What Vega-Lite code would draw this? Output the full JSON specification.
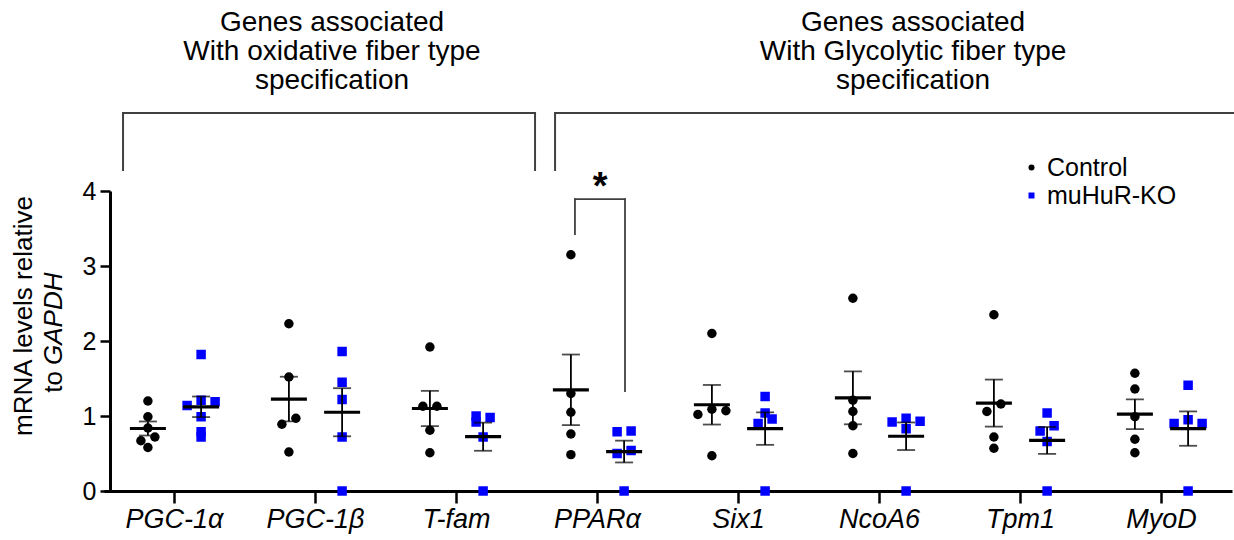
{
  "$schema": "https://vega.github.io/schema/vega-lite/v6.json",
  "width": 1128,
  "height": 300,
  "autosize": {"type": "none"},
  "padding": {"left": 104, "top": 191, "right": 2, "bottom": 49},
  "background": "white",
  "config": {
    "view": {"stroke": null},
    "font": "Liberation Sans",
    "axisX": {"labelFontSize": 27, "labelFontStyle": "italic", "labelAngle": 0, "labelColor": "black", "labelFont": "Liberation Sans", "tickSize": 12, "tickWidth": 2.5, "tickColor": "black", "domainWidth": 3, "domainColor": "black", "labelPadding": 3, "title": null},
    "axisY": {"labelFontSize": 25, "labelColor": "black", "labelFont": "Liberation Sans", "tickSize": 10, "tickWidth": 2.5, "tickColor": "black", "domainWidth": 3, "domainColor": "black", "labelPadding": 4, "grid": false, "title": null, "offset": -6},
    "legend": {"orient": "none", "legendX": 915, "legendY": -36, "title": null, "labelFontSize": 25, "labelFont": "Liberation Sans", "labelColor": "black", "symbolSize": 36, "labelOffset": 3, "rowPadding": 2, "symbolStrokeWidth": 0}
  },
  "datasets": {
    "expr": [
      {"gene": "PGC-1α", "group": "Control", "value": 1.20, "slot": 0},
      {"gene": "PGC-1α", "group": "Control", "value": 0.99, "slot": 0},
      {"gene": "PGC-1α", "group": "Control", "value": 0.84, "slot": 0},
      {"gene": "PGC-1α", "group": "Control", "value": 0.72, "slot": 1},
      {"gene": "PGC-1α", "group": "Control", "value": 0.67, "slot": -1},
      {"gene": "PGC-1α", "group": "Control", "value": 0.58, "slot": 0},
      {"gene": "PGC-1α", "group": "muHuR-KO", "value": 1.82, "slot": 0},
      {"gene": "PGC-1α", "group": "muHuR-KO", "value": 1.21, "slot": 0},
      {"gene": "PGC-1α", "group": "muHuR-KO", "value": 1.19, "slot": 2},
      {"gene": "PGC-1α", "group": "muHuR-KO", "value": 1.14, "slot": -2},
      {"gene": "PGC-1α", "group": "muHuR-KO", "value": 0.99, "slot": 0},
      {"gene": "PGC-1α", "group": "muHuR-KO", "value": 0.79, "slot": 0},
      {"gene": "PGC-1α", "group": "muHuR-KO", "value": 0.72, "slot": 0},
      {"gene": "PGC-1β", "group": "Control", "value": 2.23, "slot": 0},
      {"gene": "PGC-1β", "group": "Control", "value": 1.52, "slot": 0},
      {"gene": "PGC-1β", "group": "Control", "value": 0.97, "slot": 1},
      {"gene": "PGC-1β", "group": "Control", "value": 0.89, "slot": -1},
      {"gene": "PGC-1β", "group": "Control", "value": 0.52, "slot": 0},
      {"gene": "PGC-1β", "group": "muHuR-KO", "value": 1.86, "slot": 0},
      {"gene": "PGC-1β", "group": "muHuR-KO", "value": 1.45, "slot": 0},
      {"gene": "PGC-1β", "group": "muHuR-KO", "value": 1.22, "slot": 0},
      {"gene": "PGC-1β", "group": "muHuR-KO", "value": 0.72, "slot": 0},
      {"gene": "PGC-1β", "group": "muHuR-KO", "value": 0.00, "slot": 0},
      {"gene": "T-fam", "group": "Control", "value": 1.92, "slot": 0},
      {"gene": "T-fam", "group": "Control", "value": 1.13, "slot": -1},
      {"gene": "T-fam", "group": "Control", "value": 1.13, "slot": 1},
      {"gene": "T-fam", "group": "Control", "value": 0.81, "slot": 0},
      {"gene": "T-fam", "group": "Control", "value": 0.51, "slot": 0},
      {"gene": "T-fam", "group": "muHuR-KO", "value": 1.00, "slot": -1},
      {"gene": "T-fam", "group": "muHuR-KO", "value": 0.92, "slot": -1},
      {"gene": "T-fam", "group": "muHuR-KO", "value": 0.98, "slot": 1},
      {"gene": "T-fam", "group": "muHuR-KO", "value": 0.72, "slot": 0},
      {"gene": "T-fam", "group": "muHuR-KO", "value": 0.00, "slot": 0},
      {"gene": "PPARα", "group": "Control", "value": 3.15, "slot": 0},
      {"gene": "PPARα", "group": "Control", "value": 1.30, "slot": 0},
      {"gene": "PPARα", "group": "Control", "value": 1.05, "slot": 0},
      {"gene": "PPARα", "group": "Control", "value": 0.76, "slot": 0},
      {"gene": "PPARα", "group": "Control", "value": 0.485, "slot": 0},
      {"gene": "PPARα", "group": "muHuR-KO", "value": 0.79, "slot": -1},
      {"gene": "PPARα", "group": "muHuR-KO", "value": 0.80, "slot": 1},
      {"gene": "PPARα", "group": "muHuR-KO", "value": 0.50, "slot": -1},
      {"gene": "PPARα", "group": "muHuR-KO", "value": 0.54, "slot": 1},
      {"gene": "PPARα", "group": "muHuR-KO", "value": 0.00, "slot": 0},
      {"gene": "Six1", "group": "Control", "value": 2.10, "slot": 0},
      {"gene": "Six1", "group": "Control", "value": 1.09, "slot": 0},
      {"gene": "Six1", "group": "Control", "value": 1.02, "slot": -2},
      {"gene": "Six1", "group": "Control", "value": 1.07, "slot": 2},
      {"gene": "Six1", "group": "Control", "value": 0.47, "slot": 0},
      {"gene": "Six1", "group": "muHuR-KO", "value": 1.26, "slot": 0},
      {"gene": "Six1", "group": "muHuR-KO", "value": 1.04, "slot": 0},
      {"gene": "Six1", "group": "muHuR-KO", "value": 0.96, "slot": 1},
      {"gene": "Six1", "group": "muHuR-KO", "value": 0.90, "slot": -1},
      {"gene": "Six1", "group": "muHuR-KO", "value": 0.00, "slot": 0},
      {"gene": "NcoA6", "group": "Control", "value": 2.57, "slot": 0},
      {"gene": "NcoA6", "group": "Control", "value": 1.21, "slot": 0},
      {"gene": "NcoA6", "group": "Control", "value": 1.06, "slot": 0},
      {"gene": "NcoA6", "group": "Control", "value": 0.87, "slot": 0},
      {"gene": "NcoA6", "group": "Control", "value": 0.50, "slot": 0},
      {"gene": "NcoA6", "group": "muHuR-KO", "value": 0.92, "slot": -2},
      {"gene": "NcoA6", "group": "muHuR-KO", "value": 0.97, "slot": 0},
      {"gene": "NcoA6", "group": "muHuR-KO", "value": 0.93, "slot": 2},
      {"gene": "NcoA6", "group": "muHuR-KO", "value": 0.83, "slot": 0},
      {"gene": "NcoA6", "group": "muHuR-KO", "value": 0.00, "slot": 0},
      {"gene": "Tpm1", "group": "Control", "value": 2.35, "slot": 0},
      {"gene": "Tpm1", "group": "Control", "value": 1.16, "slot": 1},
      {"gene": "Tpm1", "group": "Control", "value": 1.06, "slot": -1},
      {"gene": "Tpm1", "group": "Control", "value": 0.72, "slot": 0},
      {"gene": "Tpm1", "group": "Control", "value": 0.57, "slot": 0},
      {"gene": "Tpm1", "group": "muHuR-KO", "value": 1.04, "slot": 0},
      {"gene": "Tpm1", "group": "muHuR-KO", "value": 0.87, "slot": 1},
      {"gene": "Tpm1", "group": "muHuR-KO", "value": 0.80, "slot": -1},
      {"gene": "Tpm1", "group": "muHuR-KO", "value": 0.66, "slot": 0},
      {"gene": "Tpm1", "group": "muHuR-KO", "value": 0.00, "slot": 0},
      {"gene": "MyoD", "group": "Control", "value": 1.57, "slot": 0},
      {"gene": "MyoD", "group": "Control", "value": 1.36, "slot": 0},
      {"gene": "MyoD", "group": "Control", "value": 0.99, "slot": 0},
      {"gene": "MyoD", "group": "Control", "value": 0.69, "slot": 0},
      {"gene": "MyoD", "group": "Control", "value": 0.51, "slot": 0},
      {"gene": "MyoD", "group": "muHuR-KO", "value": 1.41, "slot": 0},
      {"gene": "MyoD", "group": "muHuR-KO", "value": 0.95, "slot": 0},
      {"gene": "MyoD", "group": "muHuR-KO", "value": 0.90, "slot": -2},
      {"gene": "MyoD", "group": "muHuR-KO", "value": 0.90, "slot": 2},
      {"gene": "MyoD", "group": "muHuR-KO", "value": 0.00, "slot": 0}
    ]
  },
  "layer": [
    {
      "data": {"name": "expr"},
      "transform": [{"filter": "datum.group == 'Control'"}],
      "encoding": {
        "x": {"field": "gene", "type": "nominal", "sort": null, "scale": {"type": "band", "domain": ["PGC-1α", "PGC-1β", "T-fam", "PPARα", "Six1", "NcoA6", "Tpm1", "MyoD"], "paddingInner": 0, "paddingOuter": 0}, "title": null}
      },
      "layer": [
        {
          "mark": {"type": "point", "filled": true, "size": 90, "opacity": 1, "strokeWidth": 0},
          "encoding": {
            "xOffset": {"field": "slot", "type": "quantitative", "scale": {"domain": [-6.271, 13.871], "nice": false, "zero": false}},
            "y": {"field": "value", "type": "quantitative", "scale": {"domain": [0, 4], "nice": false}, "axis": {"values": [0, 1, 2, 3, 4], "title": null}},
            "color": {"field": "group", "type": "nominal", "scale": {"domain": ["Control", "muHuR-KO"], "range": ["#000000", "#0000ff"]}},
            "shape": {"field": "group", "type": "nominal", "scale": {"domain": ["Control", "muHuR-KO"], "range": ["circle", "square"]}}
          }
        },
        {
          "mark": {"type": "errorbar", "extent": "stderr", "color": "black", "ticks": {"size": 18, "thickness": 1.8, "color": "black"}, "rule": {"strokeWidth": 1.8, "color": "black"}},
          "encoding": {
            "xOffset": {"datum": 0, "type": "quantitative", "scale": {"domain": [-6.271, 13.871], "nice": false, "zero": false}},
            "y": {"field": "value", "type": "quantitative", "scale": {"domain": [0, 4], "nice": false}, "axis": {"values": [0, 1, 2, 3, 4], "title": null}}
          }
        },
        {
          "mark": {"type": "tick", "size": 36, "thickness": 3.2, "color": "black", "opacity": 1},
          "encoding": {
            "xOffset": {"datum": 0, "type": "quantitative", "scale": {"domain": [-6.271, 13.871], "nice": false, "zero": false}},
            "y": {"aggregate": "mean", "field": "value", "type": "quantitative", "scale": {"domain": [0, 4], "nice": false}, "axis": {"values": [0, 1, 2, 3, 4], "title": null}}
          }
        }
      ]
    },
    {
      "data": {"name": "expr"},
      "transform": [{"filter": "datum.group == 'muHuR-KO'"}],
      "encoding": {
        "x": {"field": "gene", "type": "nominal", "sort": null, "scale": {"type": "band", "domain": ["PGC-1α", "PGC-1β", "T-fam", "PPARα", "Six1", "NcoA6", "Tpm1", "MyoD"], "paddingInner": 0, "paddingOuter": 0}, "axis": null}
      },
      "layer": [
        {
          "mark": {"type": "point", "filled": true, "size": 90, "opacity": 1, "strokeWidth": 0},
          "encoding": {
            "xOffset": {"field": "slot", "type": "quantitative", "scale": {"domain": [-13.871, 6.271], "nice": false, "zero": false}},
            "y": {"field": "value", "type": "quantitative", "scale": {"domain": [0, 4], "nice": false}, "axis": {"values": [0, 1, 2, 3, 4], "title": null}},
            "color": {"field": "group", "type": "nominal", "scale": {"domain": ["Control", "muHuR-KO"], "range": ["#000000", "#0000ff"]}},
            "shape": {"field": "group", "type": "nominal", "scale": {"domain": ["Control", "muHuR-KO"], "range": ["circle", "square"]}}
          }
        },
        {
          "mark": {"type": "errorbar", "extent": "stderr", "color": "black", "ticks": {"size": 18, "thickness": 1.8, "color": "black"}, "rule": {"strokeWidth": 1.8, "color": "black"}},
          "encoding": {
            "xOffset": {"datum": 0, "type": "quantitative", "scale": {"domain": [-13.871, 6.271], "nice": false, "zero": false}},
            "y": {"field": "value", "type": "quantitative", "scale": {"domain": [0, 4], "nice": false}, "axis": {"values": [0, 1, 2, 3, 4], "title": null}}
          }
        },
        {
          "mark": {"type": "tick", "size": 36, "thickness": 3.2, "color": "black", "opacity": 1},
          "encoding": {
            "xOffset": {"datum": 0, "type": "quantitative", "scale": {"domain": [-13.871, 6.271], "nice": false, "zero": false}},
            "y": {"aggregate": "mean", "field": "value", "type": "quantitative", "scale": {"domain": [0, 4], "nice": false}, "axis": {"values": [0, 1, 2, 3, 4], "title": null}}
          }
        }
      ]
    },
    {
      "data": {"values": [{}]},
      "layer": [
        {"mark": {"type": "rule", "color": "#404040", "strokeWidth": 2, "strokeCap": "square"}, "encoding": {"x": {"datum": 0.135, "type": "quantitative", "scale": {"domain": [0, 8], "nice": false, "zero": false}, "axis": null}, "y": {"datum": 4.28, "type": "quantitative", "scale": {"domain": [0, 4], "nice": false}, "axis": {"values": [0, 1, 2, 3, 4], "title": null}}, "y2": {"datum": 5.04}}},
        {"mark": {"type": "rule", "color": "#404040", "strokeWidth": 2, "strokeCap": "square"}, "encoding": {"x": {"datum": 0.135, "type": "quantitative", "scale": {"domain": [0, 8], "nice": false, "zero": false}, "axis": null}, "x2": {"datum": 3.057}, "y": {"datum": 5.04, "type": "quantitative", "scale": {"domain": [0, 4], "nice": false}, "axis": {"values": [0, 1, 2, 3, 4], "title": null}}}},
        {"mark": {"type": "rule", "color": "#404040", "strokeWidth": 2, "strokeCap": "square"}, "encoding": {"x": {"datum": 3.057, "type": "quantitative", "scale": {"domain": [0, 8], "nice": false, "zero": false}, "axis": null}, "y": {"datum": 4.28, "type": "quantitative", "scale": {"domain": [0, 4], "nice": false}, "axis": {"values": [0, 1, 2, 3, 4], "title": null}}, "y2": {"datum": 5.04}}},
        {"mark": {"type": "rule", "color": "#404040", "strokeWidth": 2, "strokeCap": "square"}, "encoding": {"x": {"datum": 3.199, "type": "quantitative", "scale": {"domain": [0, 8], "nice": false, "zero": false}, "axis": null}, "y": {"datum": 4.28, "type": "quantitative", "scale": {"domain": [0, 4], "nice": false}, "axis": {"values": [0, 1, 2, 3, 4], "title": null}}, "y2": {"datum": 5.04}}},
        {"mark": {"type": "rule", "color": "#404040", "strokeWidth": 2, "strokeCap": "square"}, "encoding": {"x": {"datum": 3.199, "type": "quantitative", "scale": {"domain": [0, 8], "nice": false, "zero": false}, "axis": null}, "x2": {"datum": 8.1}, "y": {"datum": 5.04, "type": "quantitative", "scale": {"domain": [0, 4], "nice": false}, "axis": {"values": [0, 1, 2, 3, 4], "title": null}}}},
        {"mark": {"type": "rule", "color": "#404040", "strokeWidth": 1.8, "strokeCap": "square"}, "encoding": {"x": {"datum": 3.34, "type": "quantitative", "scale": {"domain": [0, 8], "nice": false, "zero": false}, "axis": null}, "y": {"datum": 3.427, "type": "quantitative", "scale": {"domain": [0, 4], "nice": false}, "axis": {"values": [0, 1, 2, 3, 4], "title": null}}, "y2": {"datum": 3.893}}},
        {"mark": {"type": "rule", "color": "#404040", "strokeWidth": 1.8, "strokeCap": "square"}, "encoding": {"x": {"datum": 3.34, "type": "quantitative", "scale": {"domain": [0, 8], "nice": false, "zero": false}, "axis": null}, "x2": {"datum": 3.695}, "y": {"datum": 3.893, "type": "quantitative", "scale": {"domain": [0, 4], "nice": false}, "axis": {"values": [0, 1, 2, 3, 4], "title": null}}}},
        {"mark": {"type": "rule", "color": "#404040", "strokeWidth": 1.8, "strokeCap": "square"}, "encoding": {"x": {"datum": 3.695, "type": "quantitative", "scale": {"domain": [0, 8], "nice": false, "zero": false}, "axis": null}, "y": {"datum": 1.333, "type": "quantitative", "scale": {"domain": [0, 4], "nice": false}, "axis": {"values": [0, 1, 2, 3, 4], "title": null}}, "y2": {"datum": 3.893}}},
        {"mark": {"type": "text", "text": "Genes associated", "fontSize": 28, "color": "black", "align": "center", "baseline": "alphabetic"}, "encoding": {"x": {"datum": 1.617, "type": "quantitative", "scale": {"domain": [0, 8], "nice": false, "zero": false}, "axis": null}, "y": {"datum": 6.133, "type": "quantitative", "scale": {"domain": [0, 4], "nice": false}, "axis": {"values": [0, 1, 2, 3, 4], "title": null}}}},
        {"mark": {"type": "text", "text": "With oxidative fiber type", "fontSize": 28, "color": "black", "align": "center", "baseline": "alphabetic"}, "encoding": {"x": {"datum": 1.617, "type": "quantitative", "scale": {"domain": [0, 8], "nice": false, "zero": false}, "axis": null}, "y": {"datum": 5.747, "type": "quantitative", "scale": {"domain": [0, 4], "nice": false}, "axis": {"values": [0, 1, 2, 3, 4], "title": null}}}},
        {"mark": {"type": "text", "text": "specification", "fontSize": 28, "color": "black", "align": "center", "baseline": "alphabetic"}, "encoding": {"x": {"datum": 1.617, "type": "quantitative", "scale": {"domain": [0, 8], "nice": false, "zero": false}, "axis": null}, "y": {"datum": 5.36, "type": "quantitative", "scale": {"domain": [0, 4], "nice": false}, "axis": {"values": [0, 1, 2, 3, 4], "title": null}}}},
        {"mark": {"type": "text", "text": "Genes associated", "fontSize": 28, "color": "black", "align": "center", "baseline": "alphabetic"}, "encoding": {"x": {"datum": 5.738, "type": "quantitative", "scale": {"domain": [0, 8], "nice": false, "zero": false}, "axis": null}, "y": {"datum": 6.133, "type": "quantitative", "scale": {"domain": [0, 4], "nice": false}, "axis": {"values": [0, 1, 2, 3, 4], "title": null}}}},
        {"mark": {"type": "text", "text": "With Glycolytic fiber type", "fontSize": 28, "color": "black", "align": "center", "baseline": "alphabetic"}, "encoding": {"x": {"datum": 5.738, "type": "quantitative", "scale": {"domain": [0, 8], "nice": false, "zero": false}, "axis": null}, "y": {"datum": 5.747, "type": "quantitative", "scale": {"domain": [0, 4], "nice": false}, "axis": {"values": [0, 1, 2, 3, 4], "title": null}}}},
        {"mark": {"type": "text", "text": "specification", "fontSize": 28, "color": "black", "align": "center", "baseline": "alphabetic"}, "encoding": {"x": {"datum": 5.738, "type": "quantitative", "scale": {"domain": [0, 8], "nice": false, "zero": false}, "axis": null}, "y": {"datum": 5.36, "type": "quantitative", "scale": {"domain": [0, 4], "nice": false}, "axis": {"values": [0, 1, 2, 3, 4], "title": null}}}},
        {"mark": {"type": "text", "text": "*", "fontSize": 38, "fontWeight": "bold", "color": "black", "align": "center", "baseline": "alphabetic"}, "encoding": {"x": {"datum": 3.518, "type": "quantitative", "scale": {"domain": [0, 8], "nice": false, "zero": false}, "axis": null}, "y": {"datum": 3.9, "type": "quantitative", "scale": {"domain": [0, 4], "nice": false}, "axis": {"values": [0, 1, 2, 3, 4], "title": null}}}},
        {"mark": {"type": "text", "text": "mRNA levels relative", "fontSize": 26, "color": "black", "align": "center", "baseline": "middle", "angle": 270}, "encoding": {"x": {"datum": -0.567, "type": "quantitative", "scale": {"domain": [0, 8], "nice": false, "zero": false}, "axis": null}, "y": {"datum": 2.333, "type": "quantitative", "scale": {"domain": [0, 4], "nice": false}, "axis": {"values": [0, 1, 2, 3, 4], "title": null}}}},
        {"mark": {"type": "text", "text": "to", "fontSize": 26, "color": "black", "align": "right", "baseline": "middle", "angle": 270}, "encoding": {"x": {"datum": -0.355, "type": "quantitative", "scale": {"domain": [0, 8], "nice": false, "zero": false}, "axis": null}, "y": {"datum": 1.6, "type": "quantitative", "scale": {"domain": [0, 4], "nice": false}, "axis": {"values": [0, 1, 2, 3, 4], "title": null}}}},
        {"mark": {"type": "text", "text": "GAPDH", "fontSize": 26, "fontStyle": "italic", "color": "black", "align": "left", "baseline": "middle", "angle": 270}, "encoding": {"x": {"datum": -0.355, "type": "quantitative", "scale": {"domain": [0, 8], "nice": false, "zero": false}, "axis": null}, "y": {"datum": 1.68, "type": "quantitative", "scale": {"domain": [0, 4], "nice": false}, "axis": {"values": [0, 1, 2, 3, 4], "title": null}}}}
      ]
    }
  ],
  "resolve": {"scale": {"x": "independent", "xOffset": "independent"}}
}
